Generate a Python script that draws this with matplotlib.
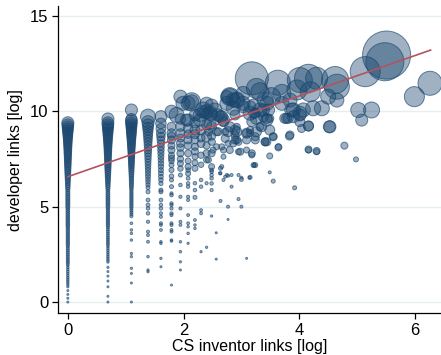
import numpy as np
import matplotlib
matplotlib.use("Agg")
import matplotlib.pyplot as plt

# ---------------- data ----------------
# dense columns at x = ln(1..5)
col_x = [0.0, 0.693, 1.099, 1.386, 1.609]

col0_y = [0.0, 0.2, 0.4, 0.6, 0.8, 0.9,
          1.0, 1.1, 1.2, 1.3, 1.4, 1.5, 1.6, 1.7, 1.8, 1.9,
          2.0, 2.1, 2.2, 2.3, 2.4, 2.5, 2.6, 2.7, 2.8, 2.9,
          3.0, 3.1, 3.2, 3.3, 3.4, 3.5, 3.6, 3.7, 3.8, 3.9,
          4.0, 4.1, 4.2, 4.3, 4.4, 4.5, 4.6, 4.7, 4.8, 4.9,
          5.0, 5.1, 5.2, 5.3, 5.4, 5.5, 5.6, 5.7, 5.8, 5.9,
          6.0, 6.1, 6.2, 6.3, 6.4, 6.5, 6.6, 6.7, 6.8, 6.9,
          7.0, 7.1, 7.2, 7.3, 7.4, 7.5, 7.6, 7.7, 7.8, 7.9,
          8.0, 8.1, 8.2, 8.3, 8.4, 8.5, 8.6, 8.7, 8.8, 8.9,
          9.0, 9.1, 9.2, 9.3, 9.4]
col0_w = [4, 4, 4, 4, 5, 5,
          6, 6, 6, 6, 6, 6, 6, 6, 6, 6,
          9, 9, 9, 9, 9, 9, 9, 9, 9, 9,
          11, 11, 11, 11, 11, 11, 11, 11, 11, 11,
          13, 13, 13, 13, 13, 13, 13, 13, 13, 13,
          16, 16, 16, 16, 16, 16, 16, 16, 16, 16,
          20, 21, 22, 24, 26, 28, 30, 32, 34, 36,
          38, 40, 42, 44, 46, 48, 50, 52, 55, 58,
          60, 63, 66, 70, 74, 78, 84, 90, 96, 104,
          112, 120, 128, 136, 144]

col1_y = [0.0, 0.3, 0.8, 1.1, 1.36, 1.6, 1.82,
          2.1, 2.2, 2.3, 2.4, 2.5, 2.6, 2.7, 2.8, 2.9,
          3.0, 3.1, 3.2, 3.3, 3.4, 3.5, 3.6, 3.7, 3.8, 3.9,
          4.0, 4.1, 4.2, 4.3, 4.4, 4.5, 4.6, 4.7, 4.8, 4.9,
          5.0, 5.1, 5.2, 5.3, 5.4, 5.5, 5.6, 5.7, 5.8, 5.9,
          6.0, 6.1, 6.2, 6.3, 6.4, 6.5, 6.6, 6.7, 6.8, 6.9,
          7.0, 7.1, 7.2, 7.3, 7.4, 7.5, 7.6, 7.7, 7.8, 7.9,
          8.0, 8.1, 8.2, 8.3, 8.4, 8.5, 8.6, 8.7, 8.8, 8.9,
          9.0, 9.1, 9.2, 9.3, 9.4, 9.6]
col1_w = [4, 4, 4, 4, 4, 4, 5,
          6, 6, 6, 6, 6, 6, 6, 6, 6,
          8, 8, 8, 8, 8, 8, 8, 8, 8, 8,
          11, 11, 11, 11, 11, 11, 11, 11, 11, 11,
          14, 14, 14, 14, 14, 14, 14, 14, 14, 14,
          18, 19, 20, 22, 24, 26, 28, 30, 32, 34,
          36, 38, 40, 42, 44, 46, 48, 50, 53, 56,
          58, 61, 64, 68, 72, 76, 82, 88, 94, 100,
          108, 116, 124, 132, 140, 144]

col2_y = [0.0, 1.0, 1.5, 1.77, 2.38, 2.55, 3.25, 3.6, 3.78, 4.13,
          4.5, 4.6, 4.7, 4.8, 4.9,
          5.0, 5.1, 5.2, 5.3, 5.4, 5.5, 5.6, 5.7, 5.8, 5.9,
          6.0, 6.1, 6.2, 6.3, 6.4, 6.5, 6.6, 6.7, 6.8, 6.9,
          7.0, 7.1, 7.2, 7.3, 7.4, 7.5, 7.6, 7.7, 7.8, 7.9,
          8.0, 8.1, 8.2, 8.3, 8.4, 8.5, 8.6, 8.7, 8.8, 8.9,
          9.0, 9.1, 9.2, 9.3, 9.4, 9.5, 9.6, 10.07]
col2_w = [4, 4, 4, 5, 5, 5, 6, 6, 6, 7,
          9, 9, 9, 9, 9,
          11, 11, 11, 11, 11, 11, 11, 11, 11, 11,
          14, 15, 16, 17, 18, 19, 20, 22, 24, 26,
          28, 30, 32, 34, 36, 38, 40, 43, 46, 49,
          52, 56, 60, 64, 68, 72, 78, 84, 90, 96,
          100, 108, 116, 124, 132, 140, 121, 144]

col3_y = [1.59, 1.68, 2.38, 3.16, 3.51, 3.69, 4.21, 4.65, 4.91, 5.09, 5.35, 5.78,
          6.0, 6.15, 6.3, 6.45, 6.6, 6.75, 6.9, 7.05, 7.2, 7.35, 7.5, 7.65,
          7.8, 7.95, 8.1, 8.25, 8.4, 8.55, 8.7, 8.85, 9.0, 9.15, 9.3, 9.45, 9.72]
col3_w = [5, 5, 6, 8, 8, 9, 10, 12, 12, 14, 14, 16,
          16, 18, 20, 22, 24, 26, 28, 30, 33, 36, 39, 42,
          46, 50, 55, 60, 66, 72, 80, 88, 100, 115, 130, 150, 225]

col4_y = [1.85, 2.29, 3.08, 3.16, 3.78, 4.04, 4.13, 4.47, 4.65, 4.91, 5.09, 5.35, 5.78, 5.87,
          6.22, 6.4, 6.57, 6.75, 6.92, 7.1, 7.27, 7.45, 7.62, 7.8, 7.97, 8.14, 8.32, 8.5,
          8.67, 8.85, 9.1, 9.37, 9.72]
col4_w = [4, 5, 6, 6, 8, 8, 9, 9, 10, 12, 12, 14, 16, 16,
          18, 20, 22, 24, 25, 28, 30, 32, 35, 38, 42, 45, 50, 60,
          70, 80, 95, 110, 144]

# middle cluster (x = ln 6 .. ln 12)
mid_x = [1.792, 1.792, 1.792, 1.792, 1.792,
         1.946, 1.946, 1.946, 1.946, 1.946, 1.946,
         2.079, 2.079, 2.079, 2.079,
         2.197, 2.197, 2.197, 2.197, 2.197, 2.197,
         2.303, 2.303, 2.303, 2.303,
         2.398, 2.398, 2.398,
         2.485, 2.485, 2.485]
mid_y = [6.6, 7.4, 7.7, 8.2, 8.7,
         7.0, 7.5, 8.1, 8.6, 9.2, 9.6,
         7.4, 8.2, 8.8, 9.1,
         7.3, 7.9, 8.5, 8.8, 9.4, 9.8,
         7.2, 7.7, 8.3, 8.6,
         8.2, 9.3, 10.4,
         8.7, 9.2, 10.3]
mid_w = [20, 30, 36, 49, 64,
         30, 40, 56, 64, 90, 110,
         36, 56, 70, 90,
         36, 49, 64, 80, 110, 130,
         30, 40, 56, 64,
         49, 100, 169,
         64, 100, 169]

# dense upper band (x = 2.1 .. 4.7)
hub_x = [3.41, 4.3, 4.65,
         3.84, 3.9, 4.07, 4.24, 3.81, 4.01, 4.01, 4.16, 4.53, 3.84, 3.64, 4.16, 4.3,
         2.8, 2.92, 2.75, 3.03, 2.86, 3.15, 3.32, 3.47, 3.26, 3.44, 3.18, 3.35, 3.49,
         2.46, 2.34, 2.6, 2.46, 2.69, 2.14, 2.28,
         2.77, 2.92, 3.09, 3.26, 3.41, 3.24, 3.09, 2.92, 2.72, 2.57, 3.55,
         2.98, 3.18, 2.8, 2.69, 2.51, 3.21]
hub_y = [10.59, 11.73, 10.59,
         10.59, 10.07, 10.07, 10.16, 9.63, 9.81, 9.46, 9.23, 9.19, 8.76, 8.11, 8.0, 7.92,
         10.77, 10.59, 10.42, 10.42, 10.16, 9.9, 10.07, 10.07, 9.63, 9.54, 9.46, 9.19, 9.02,
         9.9, 9.98, 9.81, 9.37, 9.46, 10.5, 9.54,
         8.93, 8.93, 8.85, 8.93, 8.4, 8.5, 8.5, 8.5, 8.58, 8.93, 8.67,
         7.88, 7.8, 7.97, 7.97, 7.97, 7.18]
hub_w = [256, 484, 196,
         196, 196, 196, 225, 100, 144, 100, 100, 144, 64, 49, 49, 49,
         256, 256, 196, 196, 196, 196, 196, 144, 144, 144, 100, 100, 100,
         196, 144, 144, 144, 100, 196, 144,
         100, 100, 100, 100, 64, 64, 64, 64, 64, 64, 64,
         49, 49, 49, 36, 36, 25]

# remaining (sparser) observations
cloud_x = [1.792, 1.792, 1.792, 1.792, 1.792, 1.792, 1.792, 1.792, 1.792, 1.792, 1.792, 1.792, 1.792,
           1.792, 1.792, 1.792, 1.792, 1.792, 1.792, 1.792, 1.792, 1.792, 1.792, 1.792,
           1.946, 1.946, 1.946, 1.946, 1.946, 1.946, 1.946, 1.946, 1.946, 1.946, 1.946, 1.946,
           1.946, 1.946, 1.946, 1.99, 1.88,
           2.079, 2.079, 2.079, 2.079, 2.079, 2.079, 2.079, 2.079, 2.079, 2.079, 2.079, 2.079,
           2.079, 2.079, 2.079, 2.079, 2.079, 2.05,
           2.197, 2.197, 2.197, 2.197, 2.197, 2.197, 2.197, 2.197, 2.197, 2.197, 2.14,
           2.303, 2.303, 2.303, 2.303, 2.303, 2.303, 2.28, 2.34,
           2.398, 2.398, 2.398, 2.398, 2.398, 2.398, 2.398, 2.43, 2.43,
           2.485, 2.485, 2.485, 2.485, 2.485, 2.485, 2.485, 2.485, 2.485, 2.485, 2.49,
           2.565, 2.565, 2.54, 2.57,
           2.639, 2.639, 2.639, 2.639, 2.6, 2.69, 2.69, 2.66,
           2.66, 2.66, 2.69, 2.63, 2.72, 2.72, 2.75, 2.75, 2.77, 2.77, 2.77, 2.77,
           2.8, 2.8, 2.83, 2.83, 2.86, 2.86, 2.89, 2.89, 2.89, 2.89, 2.92, 2.92,
           2.95, 2.95, 2.95, 2.95, 3.0, 3.0, 3.0, 3.03, 3.03, 3.09, 3.09, 3.09,
           3.14, 3.15, 3.15, 3.15, 3.15, 3.18, 3.18, 3.21, 3.21, 3.22, 3.24, 3.24, 3.24,
           3.26, 3.32, 3.32, 3.38, 3.38, 3.41, 3.44, 3.44, 3.44, 3.49, 3.49, 3.49, 3.52,
           3.55, 3.55, 3.63, 3.64, 3.7, 3.7, 3.75, 3.78, 3.83, 3.87, 3.9, 3.92,
           3.96, 4.01, 4.01, 4.04, 4.16, 4.16, 4.16, 4.19, 4.3, 4.39, 4.5, 4.52,
           4.62, 4.65, 4.78, 4.98, 5.02, 5.08, 5.14, 5.25, 5.48, 5.51, 5.99, 6.26]
cloud_y = [0.89, 3.2, 3.25, 3.69, 3.78, 4.04, 4.13, 4.56, 4.65, 4.91, 5.09, 5.17, 5.61,
           5.7, 6.05, 6.4, 6.92, 7.18, 7.54, 7.97, 8.5, 8.85, 9.19, 9.98,
           1.68, 2.11, 2.64, 3.16, 4.04, 4.21, 4.91, 5.52, 6.14, 6.66, 7.27, 7.8,
           8.33, 8.85, 10.77, 10.42, 9.81,
           3.08, 3.6, 3.95, 4.13, 4.56, 5.35, 5.52, 6.05, 6.22, 6.49, 6.74, 6.92,
           7.1, 7.8, 8.5, 9.54, 10.42, 9.54,
           3.86, 4.04, 4.3, 5.49, 5.87, 6.23, 7.01, 7.62, 8.14, 9.02, 10.5,
           2.64, 4.65, 4.82, 6.05, 6.4, 9.02, 9.81, 10.07,
           2.87, 6.23, 7.45, 7.8, 8.67, 9.98, 9.9, 8.93, 7.45,
           4.51, 5.87, 6.22, 6.49, 6.66, 6.83, 6.92, 7.1, 7.8, 9.81, 8.4,
           2.25, 3.63, 10.07, 8.14,
           5.3, 6.75, 7.01, 9.72, 8.93, 9.54, 7.62, 7.1,
           9.72, 8.14, 6.4, 6.75, 8.93, 6.57, 10.77, 6.66, 8.32, 6.62, 5.0, 4.33,
           10.77, 9.19, 6.05, 6.66, 10.59, 8.32, 9.81, 8.76, 9.02, 8.5, 9.19, 10.59,
           7.88, 8.4, 6.66, 5.4, 6.43, 6.52, 5.0, 10.24, 10.94, 8.85, 7.97, 2.29,
           6.52, 9.02, 6.54, 8.86, 10.24, 11.73, 7.71, 10.33, 9.9, 7.18, 9.9, 8.67, 7.18,
           11.2, 11.03, 9.19, 9.72, 10.07, 8.4, 10.42, 8.4, 9.63, 9.63, 7.66, 6.8, 10.77,
           8.67, 6.34, 11.5, 8.14, 10.94, 10.42, 9.63, 9.63, 8.7, 10.07, 9.72, 5.99,
           11.12, 11.64, 9.9, 9.1, 11.73, 9.23, 7.97, 11.03, 7.88, 10.16, 10.77, 9.19,
           11.64, 11.29, 8.2, 7.48, 10.07, 9.54, 12.08, 10.07, 12.6, 12.95, 10.77, 11.47]
cloud_w = [4, 6, 6, 8, 8, 9, 9, 9, 10, 10, 10, 10, 12,
           9, 16, 16, 25, 25, 36, 49, 64, 81, 81, 169,
           4, 5, 6, 6, 8, 8, 9, 10, 12, 16, 36, 49,
           64, 81, 169, 196, 225,
           5, 6, 6, 8, 8, 9, 10, 12, 12, 14, 25, 20,
           36, 49, 64, 144, 196, 144,
           6, 6, 8, 16, 12, 12, 36, 36, 49, 100, 324,
           5, 8, 8, 12, 12, 100, 169, 256,
           5, 10, 36, 49, 100, 196, 100, 64, 36,
           5, 10, 12, 12, 12, 12, 14, 36, 49, 144, 49,
           4, 4, 196, 36,
           9, 9, 16, 144, 64, 144, 25, 16,
           144, 36, 9, 9, 49, 9, 144, 9, 36, 9, 9, 4,
           324, 100, 9, 9, 196, 49, 100, 64, 100, 64, 49, 196,
           36, 49, 9, 9, 16, 9, 9, 144, 196, 64, 36, 4,
           9, 49, 16, 49, 144, 1089, 36, 144, 100, 16, 100, 64, 25,
           400, 324, 64, 100, 144, 64, 196, 64, 100, 64, 36, 9, 324,
           49, 16, 625, 36, 324, 196, 100, 100, 64, 196, 144, 16,
           400, 625, 196, 64, 784, 100, 36, 400, 36, 225, 225, 144,
           729, 625, 49, 25, 225, 144, 900, 256, 1444, 2304, 400, 576]

# fitted line
fit_intercept = 6.57
fit_slope = 1.059
fit_xrange = [0.0, 6.27]

# ---------------- plot ----------------
navy = (26 / 255, 71 / 255, 111 / 255)
face = navy + (0.42,)
edge = navy + (0.65,)
scale = 0.52  # weight -> marker area (pt^2)

fig = plt.figure(figsize=(4.41, 3.55), dpi=100)
ax = fig.add_axes([0.1315, 0.118, 0.8685, 0.865])

for gridy in [0, 5, 10, 15]:
    ax.axhline(gridy, color="#e6efef", lw=1.0, zorder=0)

cols_y = [col0_y, col1_y, col2_y, col3_y, col4_y]
cols_w = [col0_w, col1_w, col2_w, col3_w, col4_w]
for cx, cy, cw in zip(col_x, cols_y, cols_w):
    ax.scatter([cx] * len(cy), cy, s=np.array(cw) * scale, facecolor=face,
               edgecolor=edge, linewidths=0.7, zorder=2)

for gx, gy, gw in [(mid_x, mid_y, mid_w), (hub_x, hub_y, hub_w),
                   (cloud_x, cloud_y, cloud_w)]:
    ax.scatter(gx, gy, s=np.array(gw) * scale, facecolor=face,
               edgecolor=edge, linewidths=0.7, zorder=2)

fx = np.array(fit_xrange)
ax.plot(fx, fit_intercept + fit_slope * fx, color="#b3535d", lw=1.2, zorder=3)

ax.set_xlim(-0.17, 6.45)
ax.set_ylim(-0.58, 15.52)
ax.set_xticks([0, 2, 4, 6])
ax.set_yticks([0, 5, 10, 15])
ax.spines["top"].set_visible(False)
ax.spines["right"].set_visible(False)
for sp in ["left", "bottom"]:
    ax.spines[sp].set_linewidth(0.9)
ax.tick_params(direction="out", length=4, width=0.9, labelsize=12, pad=3)
for lab in ax.get_xticklabels() + ax.get_yticklabels():
    lab.set_family("Liberation Sans")
ax.set_xlabel("CS inventor links [log]", fontsize=11.5, family="Liberation Sans", labelpad=1)
ax.set_ylabel("developer links [log]", fontsize=11.5, family="Liberation Sans", labelpad=5)

fig.savefig("out.png", dpi=100)
